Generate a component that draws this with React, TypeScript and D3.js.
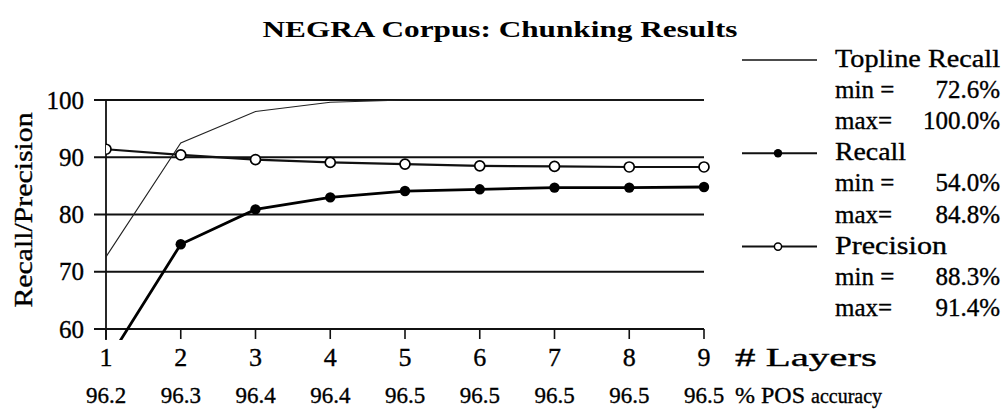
import React from "react";
import { scaleLinear, line } from "d3";

const layers = [1, 2, 3, 4, 5, 6, 7, 8, 9];
const posAccuracy = ["96.2", "96.3", "96.4", "96.4", "96.5", "96.5", "96.5", "96.5", "96.5"];
const toplineRecall = [72.6, 92.5, 98.0, 99.6, 100, 100, 100, 100, 100];
const recall = [54.0, 74.8, 80.9, 83.0, 84.1, 84.4, 84.7, 84.7, 84.8];
const precision = [91.4, 90.4, 89.6, 89.1, 88.8, 88.5, 88.4, 88.3, 88.3];
const yTicks = [60, 70, 80, 90, 100];

const seriesNames = ["Topline Recall", "Recall", "Precision"];
const seriesMin = ["72.6%", "54.0%", "88.3%"];
const seriesMax = ["100.0%", "84.8%", "91.4%"];

const width = 1003;
const height = 410;
const font = "Liberation Serif, serif";

const x = scaleLinear().domain([1, 9]).range([106, 704]);
const y = scaleLinear().domain([60, 100]).range([329, 100]);

// slight outline to mimic the heavy scanned glyphs
const ink = { fill: "#000", stroke: "#000", strokeWidth: 0.35 };

const App = () => {
  const path = line<number>()
    .x((_, i) => x(layers[i]))
    .y(d => y(d));

  const rowY = (i: number) => 67 + i * 31.1;

  return (
    <svg
      width={width}
      height={height}
      style={{ position: "absolute", left: 0, top: 0, background: "#fff", fontFamily: font }}
    >
      <defs>
        <clipPath id="plot">
          <rect x={x(1)} y={y(100) - 10} width={x(9) - x(1) + 10} height={y(60) - y(100) + 21} />
        </clipPath>
      </defs>

      {/* title */}
      <text x={500} y={37} textAnchor="middle" fontSize={23} fontWeight="bold"
        textLength={475} lengthAdjust="spacingAndGlyphs">
        NEGRA Corpus: Chunking Results
      </text>

      {/* y label */}
      <text transform={`translate(32,210) rotate(-90)`} textAnchor="middle" fontSize={25}
        textLength={195} lengthAdjust="spacingAndGlyphs" {...ink}>
        Recall/Precision
      </text>

      {/* gridlines + y ticks */}
      {yTicks.map(t => (
        <g key={t} transform={`translate(0,${y(t)})`}>
          <line x1={94} x2={x(9)} stroke="#111" strokeWidth={1.8} />
          <text x={84} dy="0.34em" textAnchor="end" fontSize={25} {...ink}>{t}</text>
        </g>
      ))}
      <line x1={x(1)} x2={x(1)} y1={y(100)} y2={y(60) + 11} stroke="#111" strokeWidth={1.8} />

      {/* x ticks */}
      {layers.map((l, i) => (
        <g key={l} transform={`translate(${x(l)},0)`}>
          <line y1={y(60)} y2={y(60) + 10} stroke="#111" strokeWidth={1.6} />
          <text y={366} textAnchor="middle" fontSize={26} {...ink}>{l}</text>
          <text y={403} textAnchor="middle" fontSize={23} {...ink}>{posAccuracy[i]}</text>
        </g>
      ))}
      <text x={735} y={366} fontSize={25} textLength={142} lengthAdjust="spacingAndGlyphs" {...ink}># Layers</text>
      <text x={735} y={403} fontSize={24} {...ink}>
        % POS <tspan fontSize={20}>accuracy</tspan>
      </text>

      {/* series */}
      <g clipPath="url(#plot)">
        <path d={path(toplineRecall) || ""} fill="none" stroke="#222" strokeWidth={1.1} />
        <path d={path(precision) || ""} fill="none" stroke="#111" strokeWidth={2.2} />
        <path d={path(recall) || ""} fill="none" stroke="#000" strokeWidth={2.8} />
        {precision.map((d, i) => (
          <circle key={"p" + i} cx={x(layers[i])} cy={y(d)} r={5} fill="#fff" stroke="#000" strokeWidth={1.7} />
        ))}
        {recall.map((d, i) => (
          <circle key={"r" + i} cx={x(layers[i])} cy={y(d)} r={5.2} fill="#000" />
        ))}
      </g>

      {/* legend */}
      {seriesNames.map((name, k) => {
        const base = rowY(k * 3);
        const ly = base - 7;
        return (
          <g key={name}>
            <line x1={742} x2={817} y1={ly} y2={ly} stroke="#111" strokeWidth={k === 0 ? 1.3 : 2} />
            {k === 1 && <circle cx={778} cy={ly} r={4.2} fill="#000" />}
            {k === 2 && <circle cx={778} cy={ly} r={3.6} fill="#fff" stroke="#000" strokeWidth={1.5} />}
            <text x={835} y={base} fontSize={26}
              textLength={name === "Topline Recall" ? 165 : name === "Recall" ? 71 : 112}
              lengthAdjust="spacingAndGlyphs" {...ink}>{name}</text>
            <text x={835} y={rowY(k * 3 + 1)} fontSize={25} {...ink}>min =</text>
            <text x={1000} y={rowY(k * 3 + 1)} fontSize={25} textAnchor="end" {...ink}>{seriesMin[k]}</text>
            <text x={835} y={rowY(k * 3 + 2)} fontSize={25} {...ink}>max=</text>
            <text x={1000} y={rowY(k * 3 + 2)} fontSize={25} textAnchor="end" {...ink}>{seriesMax[k]}</text>
          </g>
        );
      })}
    </svg>
  );
};

export default App;
